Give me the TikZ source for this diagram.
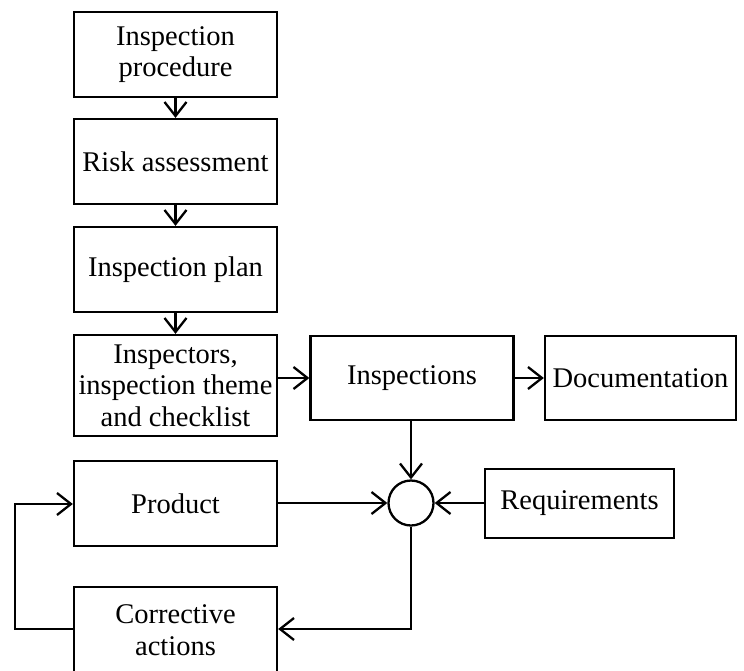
\documentclass[tikz,border=0pt]{standalone}
\usepackage{fontspec}
\setmainfont{Liberation Serif}
\usetikzlibrary{arrows.meta}
\begin{document}
\begin{tikzpicture}[x=1pt,y=-1pt,
  box/.style={draw, line width=2.3pt, minimum width=203pt, minimum height=85pt, align=center, inner sep=1pt,
    font=\fontsize{28.5}{31.5}\selectfont},
  conn/.style={line width=2.3pt, -{Straight Barb[length=14pt,width=22pt,line width=2.3pt]}}]
\useasboundingbox (0,0) rectangle (744,670);
\node[box] (proc) at (175.5,54.5) {Inspection\\procedure};
\node[box] (risk) at (175.5,161.5) {Risk assessment};
\node[box] (plan) at (175.5,269.5) {Inspection plan};
\node[box, minimum height=101pt] (insp) at (175.5,385.5) {Inspectors,\\inspection theme\\and checklist};
\node[box, minimum height=84pt] (ins) at (412,378) {Inspections};
\node[box, minimum width=191pt, minimum height=84pt] (doc) at (640.5,378) {Documentation};
\node[box] (prod) at (175.5,503.5) {Product};
\node[box, minimum height=92pt] (corr) at (175.5,633) {\raisebox{4.5pt}{\begin{tabular}{@{}c@{}}Corrective\\actions\end{tabular}}};
\node[draw, line width=2.3pt, circle, minimum size=45pt, inner sep=0pt] (cmp) at (411,503) {};
\node[box, minimum width=189pt, minimum height=69pt] (req) at (579.5,503.5) {Requirements};
\coordinate (c1) at (411,629);
\coordinate (l1) at (15,629);
\coordinate (l2) at (15,504);
\draw[conn] (proc) -- (risk);
\draw[conn] (risk) -- (plan);
\draw[conn] (plan) -- (insp);
\draw[conn] (insp.east |- ins.west) -- (ins.west);
\draw[conn] (ins) -- (doc);
\draw[conn] (ins.south -| cmp.north) -- (cmp.north);
\draw[conn] (prod.east |- cmp.west) -- (cmp.west);
\draw[conn] (req.west |- cmp.east) -- (cmp.east);
\draw[conn] (cmp.south) -- (c1) -- (corr.east |- c1);
\draw[conn] (corr.west |- l1) -- (l1) -- (l2) -- (prod.west |- l2);
\end{tikzpicture}
\end{document}
